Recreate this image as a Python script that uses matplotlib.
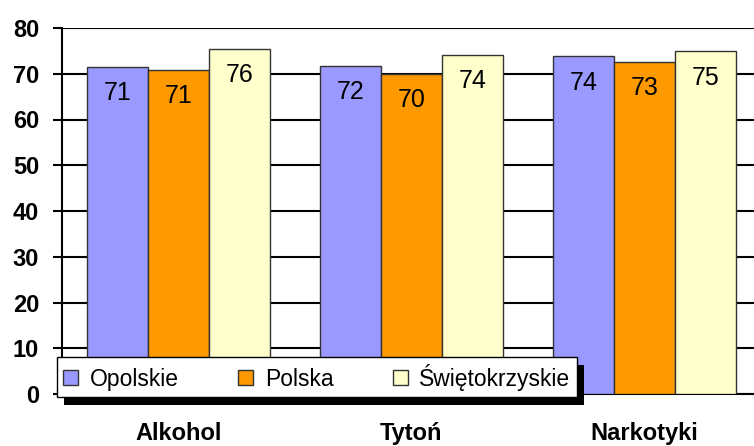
import matplotlib
matplotlib.use('Agg')
import matplotlib.pyplot as plt
from matplotlib.patches import Rectangle
import numpy as np

plt.rcParams['font.family'] = ['Liberation Sans', 'DejaVu Sans']

categories = ['Alkohol', 'Tytoń', 'Narkotyki']
series = ['Opolskie', 'Polska', 'Świętokrzyskie']
opolskie = [71.5, 71.8, 73.8]
polska = [70.9, 70.0, 72.6]
swietokrzyskie = [75.5, 74.2, 74.9]
labels_opolskie = ['71', '72', '74']
labels_polska = ['71', '70', '73']
labels_swiet = ['76', '74', '75']
colors = ['#9999FF', '#FF9900', '#FFFFCC']
yticks = [0, 10, 20, 30, 40, 50, 60, 70, 80]

fig = plt.figure(figsize=(7.54, 4.46), dpi=100)
ax = fig.add_axes([62 / 754, 52 / 446, 699 / 754, 366 / 446])

x = np.arange(len(categories))
w = 0.262
values = [opolskie, polska, swietokrzyskie]
texts = [labels_opolskie, labels_polska, labels_swiet]
for i, (vals, labs) in enumerate(zip(values, texts)):
    bars = ax.bar(x + (i - 1) * w, vals, w, color=colors[i], edgecolor='#333333',
                  linewidth=1.0, label=series[i], zorder=3)
    for b, t in zip(bars, labs):
        ax.annotate(t, (b.get_x() + b.get_width() / 2, b.get_height()),
                    xytext=(0, -19), textcoords='offset points',
                    ha='center', va='center', fontsize=18, zorder=4)

ax.set_xlim(-0.5, 2.5)
ax.set_ylim(0, 80)
ax.set_yticks(yticks)
ax.set_xticks(x)
ax.set_xticklabels(categories, fontsize=17, fontweight='bold')
ax.tick_params(axis='x', length=0, pad=20)
ax.tick_params(axis='y', length=6.5, width=1.5, pad=10, labelsize=17)
for lab in ax.get_yticklabels():
    lab.set_fontweight('bold')

ax.grid(axis='y', color='black', linewidth=1.5, zorder=0)
ax.set_axisbelow(True)
for s in ['top', 'right']:
    ax.spines[s].set_visible(False)
ax.spines['left'].set_linewidth(1.5)
ax.spines['bottom'].set_linewidth(1.5)

leg = fig.legend(loc='lower left', bbox_to_anchor=(57 / 754, 49 / 446),
                 ncol=3, fontsize=16.5, frameon=True, fancybox=False,
                 edgecolor='black', facecolor='white', framealpha=1,
                 handlelength=0.65, handleheight=0.65,
                 columnspacing=2.6, handletextpad=0.5, borderpad=0.28,
                 borderaxespad=0)
leg.get_frame().set_linewidth(1.0)
leg.set_zorder(10)

# black drop shadow behind the legend box
fig.canvas.draw()
bb = leg.get_window_extent().transformed(fig.transFigure.inverted())
shadow = Rectangle((bb.x0 + 7 / 754, bb.y0 - 8 / 446), bb.width, bb.height,
                   transform=fig.transFigure, facecolor='black', edgecolor='none',
                   zorder=9)
fig.patches.append(shadow)

fig.savefig('out.png', dpi=100)
